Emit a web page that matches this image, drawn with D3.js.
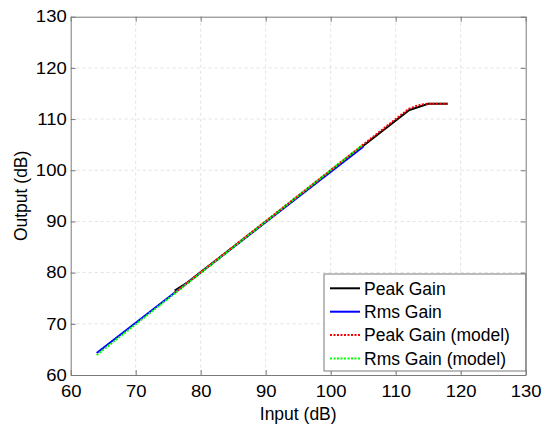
<!DOCTYPE html>
<html>
<head>
<meta charset="utf-8">
<script src="https://cdn.jsdelivr.net/npm/d3@7"></script>
<style>
  html, body { margin: 0; padding: 0; background: #fff; }
  svg { display: block; font-family: "Liberation Sans", Arial, Helvetica, sans-serif; }
</style>
</head>
<body>
<svg id="chart" width="544" height="428"></svg>
<script>
// Input / output level pairs (dB) for each curve
const peakGainIn   = [76, 78, 112, 115, 118];
const peakGainOut  = [76.5, 78.1, 111.7, 113, 113];
const rmsGainIn    = [64, 105];
const rmsGainOut   = [64.3, 104.6];
const peakModelIn  = [76, 112, 113, 114, 115, 118];
const peakModelOut = [76.1, 112, 112.5, 112.85, 113, 113];
const rmsModelIn   = [64, 105];
const rmsModelOut  = [63.9, 105];

const xTicks = [60, 70, 80, 90, 100, 110, 120, 130];
const yTicks = [60, 70, 80, 90, 100, 110, 120, 130];

const seriesNames  = ["Peak Gain", "Rms Gain", "Peak Gain (model)", "Rms Gain (model)"];
const seriesColors = ["#000000", "#0000ff", "#ff0000", "#00ff00"];
const seriesDash   = [null, null, "2,1.5", "2,1.5"];

const series = [
  { x: peakGainIn,  y: peakGainOut },
  { x: rmsGainIn,   y: rmsGainOut },
  { x: peakModelIn, y: peakModelOut },
  { x: rmsModelIn,  y: rmsModelOut }
].map((s, i) => ({
  name: seriesNames[i], color: seriesColors[i], dash: seriesDash[i],
  pts: s.x.map((v, j) => [v, s.y[j]])
}));

const svg = d3.select("#chart");
const plotL = 70.7, plotR = 525.7, plotT = 16.7, plotB = 375;
const fontSize = 17.5;
const tickFont = 16.5;

const x = d3.scaleLinear().domain([60, 130]).range([plotL, plotR]);
const y = d3.scaleLinear().domain([60, 130]).range([plotB, plotT]);

const axisColor = "#7a7a7a";
const gridColor = "#e2e2e2";

// Grid
const grid = svg.append("g");
grid.selectAll(".gx").data(xTicks.slice(1, -1)).enter().append("line")
  .attr("x1", d => x(d)).attr("x2", d => x(d))
  .attr("y1", plotT).attr("y2", plotB)
  .attr("stroke", gridColor).attr("stroke-width", 1).attr("stroke-dasharray", "3,3");
grid.selectAll(".gy").data(yTicks.slice(1, -1)).enter().append("line")
  .attr("x1", plotL).attr("x2", plotR)
  .attr("y1", d => y(d)).attr("y2", d => y(d))
  .attr("stroke", gridColor).attr("stroke-width", 1).attr("stroke-dasharray", "3,3");

// Axes (ticks inward) on all four sides; tick numbers drawn slightly wide
function styleAxis(g) {
  g.select(".domain").attr("stroke", axisColor);
  g.selectAll(".tick line").attr("stroke", axisColor);
  g.selectAll(".tick text").attr("fill", "#000").attr("font-size", tickFont)
   .attr("font-family", "\"Liberation Sans\", Arial, sans-serif")
   .attr("transform", "scale(1.12,1)");
}
const xAxis = svg.append("g").attr("transform", `translate(0,${plotB})`)
  .call(d3.axisBottom(x).tickValues(xTicks).tickSizeInner(-5).tickSizeOuter(0).tickPadding(10.5));
styleAxis(xAxis);
const yAxis = svg.append("g").attr("transform", `translate(${plotL},0)`)
  .call(d3.axisLeft(y).tickValues(yTicks).tickSizeInner(-5).tickSizeOuter(0).tickPadding(3.6));
styleAxis(yAxis);
const xTopAxis = svg.append("g").attr("transform", `translate(0,${plotT})`)
  .call(d3.axisTop(x).tickValues(xTicks).tickSizeInner(-5).tickSizeOuter(0).tickFormat(""));
styleAxis(xTopAxis);
const yRightAxis = svg.append("g").attr("transform", `translate(${plotR},0)`)
  .call(d3.axisRight(y).tickValues(yTicks).tickSizeInner(-5).tickSizeOuter(0).tickFormat(""));
styleAxis(yRightAxis);

// Curves
const line = d3.line().x(d => x(d[0])).y(d => y(d[1]));
series.forEach(s => {
  svg.append("path").datum(s.pts)
    .attr("d", line)
    .attr("fill", "none")
    .attr("stroke", s.color)
    .attr("stroke-width", 2)
    .attr("stroke-dasharray", s.dash);
});

// Axis labels
svg.append("text").attr("x", (plotL + plotR) / 2).attr("y", 420)
  .attr("text-anchor", "middle").attr("font-size", fontSize).text("Input (dB)");
svg.append("text").attr("transform", `translate(27,${(plotT + plotB) / 2}) rotate(-90)`)
  .attr("text-anchor", "middle").attr("font-size", fontSize).text("Output (dB)");

// Legend
const lg = svg.append("g");
lg.append("rect").attr("x", 324).attr("y", 274).attr("width", plotR - 324).attr("height", 97)
  .attr("fill", "#fff").attr("stroke", axisColor).attr("stroke-width", 1);
series.forEach((s, i) => {
  const cy = 288.3 + i * 23.4;
  lg.append("line").attr("x1", 330).attr("x2", 360).attr("y1", cy).attr("y2", cy)
    .attr("stroke", s.color).attr("stroke-width", 2).attr("stroke-dasharray", s.dash);
  lg.append("text").attr("x", 364).attr("y", cy + 6.3).attr("font-size", fontSize).text(s.name);
});
</script>
</body>
</html>
